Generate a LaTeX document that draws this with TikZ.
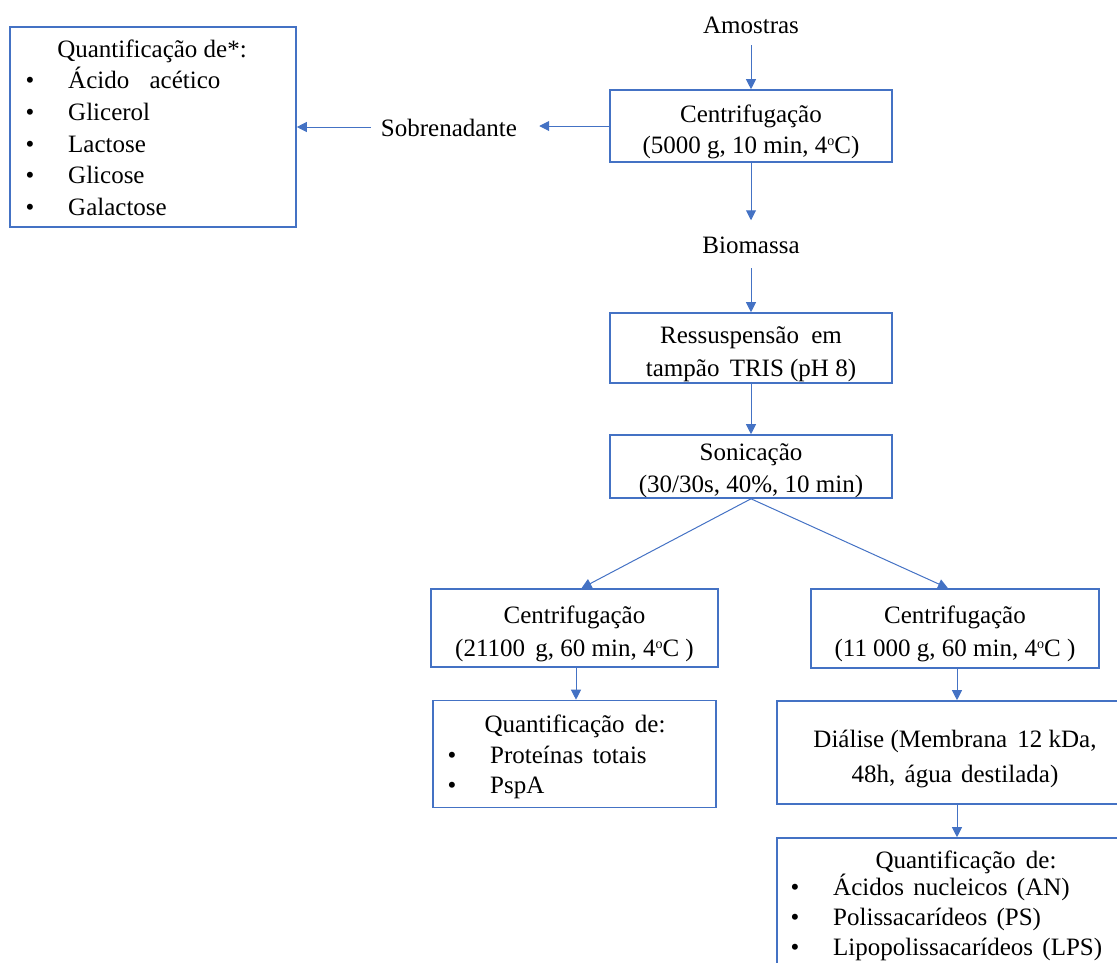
\documentclass[tikz,border=0pt]{standalone}
\usepackage{fontspec}
\setmainfont{Liberation Serif}
\usetikzlibrary{arrows.meta}
\definecolor{bl}{HTML}{4472C4}
\newcommand{\degsup}{\raisebox{8pt}{\fontsize{14}{14}\selectfont o}}
\begin{document}
\begin{tikzpicture}[x=1pt,y=-1pt,
  box/.style={draw=bl,line width=1.6pt,rectangle,inner sep=0pt},
  txt/.style={font=\fontsize{25}{32}\selectfont,inner sep=0pt,anchor=base},
  ltxt/.style={txt,anchor=base west},
  arr/.style={draw=bl,line width=1pt,-{Triangle[length=10pt,width=10pt]}}]
\useasboundingbox (0,0) rectangle (1117,962);
\clip (0,0) rectangle (1117,962);
% boxes
\node[box,minimum width=286pt,minimum height=200pt] (qa) at (153,127) {};
\node[box,minimum width=282pt,minimum height=72pt] (b1) at (751,126) {};
\node[box,minimum width=282pt,minimum height=70pt] (rs) at (751,348) {};
\node[box,minimum width=282pt,minimum height=63pt] (so) at (751,466.5) {};
\node[box,minimum width=287pt,minimum height=78pt] (c2) at (574.5,628) {};
\node[box,minimum width=283pt,minimum height=107pt] (q2) at (574.5,754) {};
\node[box,minimum width=288pt,minimum height=79pt] (c3) at (955,628.5) {};
\node[box,minimum width=356pt,minimum height=103pt] (di) at (955,752.5) {};
\node[box,minimum width=378pt,minimum height=162pt] (qf) at (966,919) {};
% free texts
\node[txt] (am) at (751,33) {Amostras};
\node[txt] (sob) at (449,136) {Sobrenadante};
\node[txt] (bio) at (751,253) {Biomassa};
% left box texts
\node[txt] (qat) at (152,57) {Quantificação de*:};
\node[txt] (qb1) at (30,88) {•};
\node[txt] (qb2) at (30,120) {•};
\node[txt] (qb3) at (30,152) {•};
\node[txt] (qb4) at (30,183) {•};
\node[txt] (qb5) at (30,215) {•};
\node[ltxt] (qi1) at (68,88) {Ácido\hspace{14pt} acético};
\node[ltxt] (qi2) at (68,120) {Glicerol};
\node[ltxt] (qi3) at (68,152) {Lactose};
\node[ltxt] (qi4) at (68,183) {Glicose};
\node[ltxt] (qi5) at (68,215) {Galactose};
% box1
\node[txt] (b1a) at (751,122) {Centrifugação};
\node[txt] (b1b) at (751,153) {(5000 g, 10 min, 4\degsup C)};
% ressuspensao
\node[txt] (rsa) at (751,343) {Ressuspensão\hspace{6pt} em};
\node[txt] (rsb) at (751,376) {tampão\hspace{4pt} TRIS (pH 8)};
% sonicacao
\node[txt] (soa) at (751,460) {Sonicação};
\node[txt] (sob2) at (751,492) {(30/30s, 40\%, 10 min)};
% c2
\node[txt] (c2a) at (574.5,623) {Centrifugação};
\node[txt] (c2b) at (574.5,656) {(21100\hspace{4pt} g, 60 min, 4\degsup C )};
% q2
\node[txt] (q2t) at (575,732) {Quantificação\hspace{4pt} de:};
\node[txt] (q2b1) at (452,763) {•};
\node[txt] (q2b2) at (452,793) {•};
\node[ltxt] (q2i1) at (490,763) {Proteínas\hspace{3pt} totais};
\node[ltxt] (q2i2) at (490,793) {PspA};
% c3
\node[txt] (c3a) at (955,623) {Centrifugação};
\node[txt] (c3b) at (955,656) {(11 000 g, 60 min, 4\degsup C )};
% dialise
\node[txt] (dia) at (955,747) {Diálise (Membrana\hspace{4pt} 12 kDa,};
\node[txt] (dib) at (955,782) {48h,\hspace{3pt} água\hspace{3pt} destilada)};
% qf
\node[txt] (qft) at (966,868) {Quantificação\hspace{4pt} de:};
\node[txt] (qfb1) at (795,895) {•};
\node[txt] (qfb2) at (795,925) {•};
\node[txt] (qfb3) at (795,955) {•};
\node[ltxt] (qfi1) at (833,895) {Ácidos\hspace{3pt} nucleicos\hspace{3pt} (AN)};
\node[ltxt] (qfi2) at (833,925) {Polissacarídeos\hspace{3pt} (PS)};
\node[ltxt] (qfi3) at (833,955) {Lipopolissacarídeos\hspace{3pt} (LPS)};
% connectors
\draw[arr] ([yshift=-12pt]am.south) -- (b1.north);
\draw[arr] (b1.west) -- ([xshift=22pt]b1.west -| sob.east);
\draw[arr] ([xshift=-10pt]sob.west |- qa.east) -- (qa.east);
\draw[arr] (b1.south) -- ([yshift=16pt]bio.north);
\draw[arr] ([yshift=-15pt]bio.south) -- (rs.north);
\draw[arr] (rs.south) -- (so.north);
\draw[arr] (so.south) -- ([xshift=7pt]c2.north);
\draw[arr] (so.south) -- ([xshift=-7pt]c3.north);
\draw[arr] ([xshift=1.5pt]c2.south) -- ([xshift=1.5pt]q2.north);
\draw[arr] ([xshift=2pt]c3.south) -- ([xshift=2pt]di.north);
\draw[arr] ([xshift=2pt]di.south) -- ([xshift=2pt]di.south |- qf.north);
\end{tikzpicture}
\end{document}
